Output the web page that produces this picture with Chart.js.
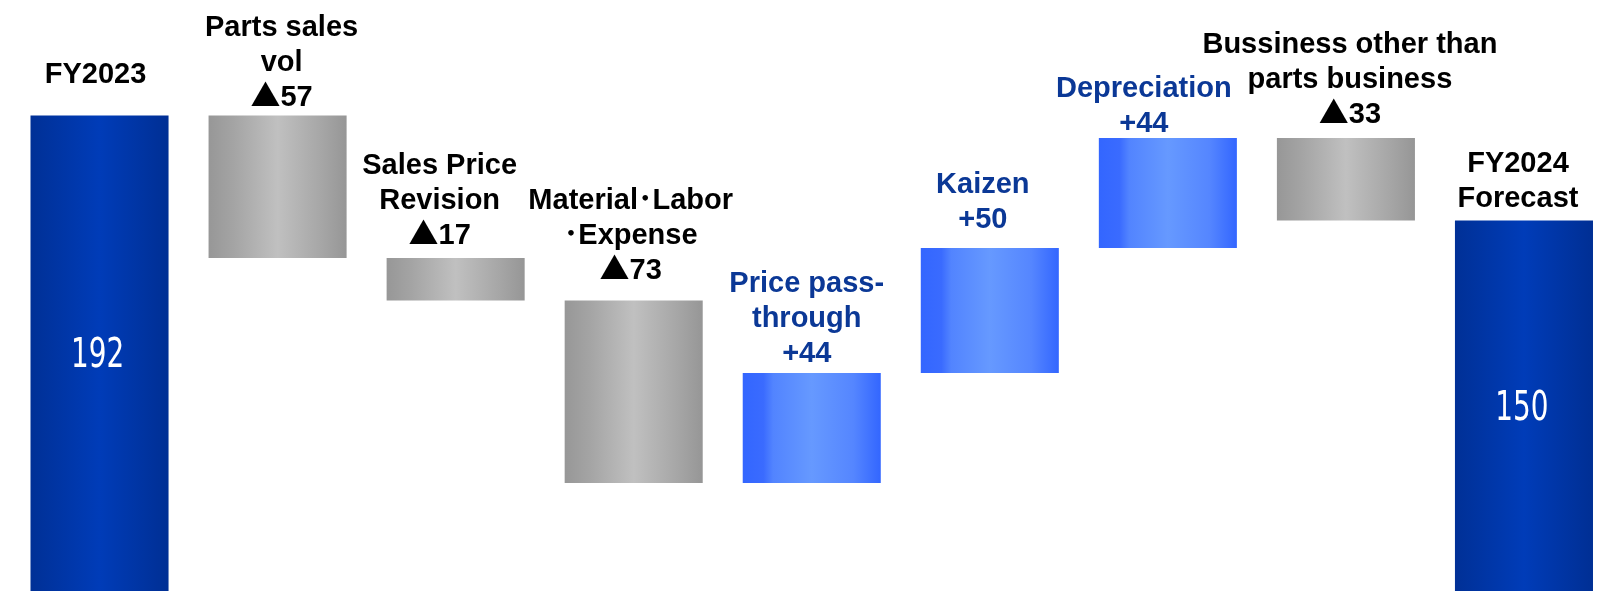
<!DOCTYPE html>
<html>
<head>
<meta charset="utf-8">
<title>Operating profit bridge</title>
<script src="https://cdn.jsdelivr.net/npm/chart.js@4/dist/chart.umd.min.js"></script>
<style>
  html, body { margin:0; padding:0; background:#fff; overflow:hidden; }
  #wrap { position:relative; width:1613px; height:591px; }
</style>
</head>
<body>
<div id="wrap"><canvas id="bridge"></canvas></div>
<script>
'use strict';

// Bridge steps, left to right
const categories = ['FY2023', 'Parts sales vol', 'Sales Price Revision', 'Material･Labor･Expense',
  'Price pass-through', 'Kaizen', 'Depreciation', 'Bussiness other than parts business', 'FY2024 Forecast'];
const deltas = [192, -57, -17, -73, 44, 50, 44, -33, 150];
const kinds  = ['total', 'down', 'down', 'down', 'up', 'up', 'up', 'down', 'total'];
const labelLines = [
  ['FY2023'],
  ['Parts sales', 'vol'],
  ['Sales Price', 'Revision'],
  ['Material･Labor', '･Expense'],
  ['Price pass-', 'through'],
  ['Kaizen'],
  ['Depreciation'],
  ['Bussiness other than', 'parts business'],
  ['FY2024', 'Forecast'],
];

// floating [from, to] ranges from the running total
const ranges = [];
let run = 0;
deltas.forEach((d, i) => {
  if (kinds[i] === 'total') { ranges.push([0, d]); run = d; }
  else { ranges.push([run, run + d]); run += d; }
});

const deltaText = d => d < 0 ? '▲' + (-d) : '+' + d;

const BLUE_TEXT = '#0b3896';
const FONT = 'bold 29px "Liberation Sans", Arial, "Noto Sans CJK JP", sans-serif';
const TRI_FONT = 'bold 30px "Noto Sans CJK JP", sans-serif';
const fills = {
  total: [[0, '#003096'], [0.5, '#003cb8'], [1, '#002f94']],
  down:  [[0, '#979797'], [0.18, '#a4a4a4'], [0.5, '#c0c0c0'], [0.82, '#a6a6a6'], [1, '#969696']],
  up:    [[0, '#3366ff'], [0.15, '#3a6bff'], [0.22, '#5284ff'], [0.5, '#6699ff'], [0.8, '#5586ff'], [1, '#3366ff']],
};
const BAR_PCT = 0.7753;

function barFill(c) {
  const chart = c.chart, i = c.dataIndex;
  const stops = fills[kinds[i]];
  if (!chart.chartArea) return stops[0][1];
  const x = chart.scales.x.getPixelForValue(i);
  const half = chart.chartArea.width / categories.length * BAR_PCT / 2;
  const g = chart.ctx.createLinearGradient(x - half, 0, x + half, 0);
  stops.forEach(([o, col]) => g.addColorStop(o, col));
  return g;
}

// one caption line; a leading ▲ is set in the CJK face so it comes out full size
function drawLine(ctx, text, cx, y) {
  if (text[0] !== '▲') {
    ctx.font = FONT;
    ctx.textAlign = 'center';
    ctx.fillText(text, cx, y);
    return;
  }
  const rest = text.slice(1);
  ctx.font = TRI_FONT;
  const wt = ctx.measureText('▲').width;
  ctx.font = FONT;
  const wr = ctx.measureText(rest).width;
  const x0 = cx - (wt + wr) / 2;
  ctx.textAlign = 'left';
  ctx.font = TRI_FONT;
  ctx.fillText('▲', x0, y);
  ctx.font = FONT;
  ctx.fillText(rest, x0 + wt, y);
}

// captions above the bars, totals printed inside
const barLabels = {
  id: 'barLabels',
  afterDatasetsDraw(chart, args, o) {
    const ctx = chart.ctx;
    const bottom = chart.chartArea.bottom;
    chart.getDatasetMeta(0).data.forEach((bar, i) => {
      const lines = kinds[i] === 'total' ? labelLines[i] : labelLines[i].concat([deltaText(deltas[i])]);
      const top = Math.min(bar.y, bar.base);
      const x = bar.x + o.dx[i];
      let y = top - o.gap[i];
      ctx.save();
      ctx.fillStyle = kinds[i] === 'up' ? BLUE_TEXT : '#000';
      ctx.textBaseline = 'alphabetic';
      for (let k = lines.length - 1; k >= 0; k--) {
        drawLine(ctx, lines[k], x, y);
        y -= o.lineHeight;
      }
      if (kinds[i] === 'total') {
        const yc = (top + bottom) / 2;
        ctx.translate(bar.x - 2, yc + 14);
        ctx.scale(0.68, 1);
        ctx.textAlign = 'center';
        ctx.font = '41px "DejaVu Sans", sans-serif';
        ctx.fillStyle = '#fff';
        ctx.fillText(String(deltas[i]), 0, 0);
      }
      ctx.restore();
    });
  }
};

new Chart(document.getElementById('bridge'), {
  type: 'bar',
  data: {
    labels: categories,
    datasets: [{
      data: ranges,
      backgroundColor: barFill,
      borderWidth: 0,
      borderSkipped: false,
      categoryPercentage: 1,
      barPercentage: BAR_PCT,
    }]
  },
  options: {
    responsive: true,
    maintainAspectRatio: false,
    animation: false,
    layout: { padding: { left: 10.5, right: 0, top: 0, bottom: 0 } },
    plugins: {
      legend: { display: false },
      tooltip: { enabled: false },
      barLabels: {
        lineHeight: 35,
        gap: [33, 10, 14, 22, 11, 20, 6, 15, 14],
        dx:  [-4, 4, -16, -3, -5, -7, -24, 4, -6],
      },
    },
    scales: {
      x: { display: false },
      y: { display: false, min: 1.8, max: 238.2 },
    },
  },
  plugins: [barLabels],
});
</script>
</body>
</html>
